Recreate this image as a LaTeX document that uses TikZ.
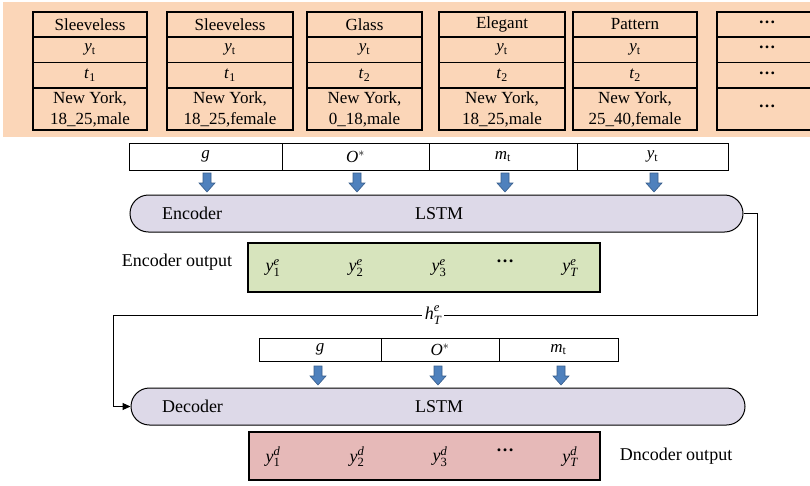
\documentclass[tikz,border=0pt]{standalone}
\usepackage{amsmath}
\usepackage{fontspec}
\setmainfont{Liberation Serif}
\usetikzlibrary{shapes.misc,arrows.meta}
\definecolor{peach}{RGB}{251,214,184}
\definecolor{lavender}{RGB}{221,217,232}
\definecolor{greenbox}{RGB}{215,228,189}
\definecolor{redbox}{RGB}{230,185,184}
\definecolor{bluefill}{RGB}{79,129,189}
\definecolor{blueline}{RGB}{56,93,138}
\newcommand{\yt}{\textit{y}\textsubscript{t}}
\newcommand{\mt}{\textit{m}\textsubscript{t}}
\newcommand{\tone}{\textit{t}\textsubscript{1}}
\newcommand{\ttwo}{\textit{t}\textsubscript{2}}
\newcommand{\ostar}{\textit{O}$^{*}$}
\newcommand{\yse}[2]{$\textit{y}^{\textit{#2}}_{\textrm{#1}}$}
\newcommand{\ysT}[1]{$\textit{y}^{\textit{#1}}_{\textit{T}}$}
\newcommand{\mydots}{\raisebox{0.28em}{\textbf{…}}}
\newcommand{\tabcol}[7]{%
  \node[cell, minimum width={(#3-#2)*1pt}, minimum height=25pt] (#1r1) at ({(#2+#3)/2},24.5) {#4};
  \node[cell, minimum width={(#3-#2)*1pt}, minimum height=25.5pt] (#1r2) at ({(#2+#3)/2},49.75) {#5};
  \node[cell, minimum width={(#3-#2)*1pt}, minimum height=25.5pt] (#1r3) at ({(#2+#3)/2},75.25) {#6};
  \node[cell, minimum width={(#3-#2)*1pt}, minimum height=42pt] (#1r4) at ({(#2+#3)/2},109) {#7};
}
\tikzset{
  cell/.style={draw, line width=1.2pt, rectangle, inner sep=0pt, align=center,
    font=\fontsize{17}{21}\selectfont},
  seg/.style={draw, line width=0.9pt, rectangle, inner sep=0pt, fill=white,
    font=\fontsize{17}{20}\selectfont},
  lstm/.style={draw, line width=1pt, rounded rectangle, inner sep=0pt},
  lbl/.style={inner sep=0pt, font=\fontsize{18}{21}\selectfont},
  outbox/.style={draw, line width=1.2pt, rectangle, inner sep=0pt},
  conn/.style={line width=1pt},
  bluearr/.pic={\path[fill=bluefill, draw=blueline, line width=0.6pt]
    (-4,-10) -- (4,-10) -- (4,0) -- (8,0) -- (0,9) -- (-8,0) -- (-4,0) -- cycle;}
}
\begin{document}
\begin{tikzpicture}[x=1pt,y=-1pt]
\useasboundingbox (0,0) rectangle (810,485);
\fill[peach] (3,2) rectangle (810,137);
% table
\tabcol{ca}{33}{147}{Sleeveless}{\yt}{\tone}{New York,\\18\_25,male}
\tabcol{cb}{167}{293}{Sleeveless}{\yt}{\tone}{New York,\\18\_25,female}
\tabcol{cc}{307}{422}{Glass}{\yt}{\ttwo}{New York,\\0\_18,male}
\tabcol{cd}{439}{565}{Elegant}{\yt}{\ttwo}{New York,\\18\_25,male}
\tabcol{ce}{573}{697}{Pattern}{\yt}{\ttwo}{New York,\\25\_40,female}
\tabcol{cf}{717}{817}{\mydots}{\mydots}{\mydots}{\mydots}
% encoder input bar
\node[seg, minimum width=153pt, minimum height=27pt] (eg) at (205.5,156.5) {\textit{g}};
\node[seg, minimum width=147pt, minimum height=27pt] (eo) at (355.5,156.5) {\ostar};
\node[seg, minimum width=148pt, minimum height=27pt] (em) at (503,156.5) {\mt};
\node[seg, minimum width=151pt, minimum height=27pt] (ey) at (652.5,156.5) {\yt};
\pic at (207,183) {bluearr};
\pic at (357,183) {bluearr};
\pic at (505,183) {bluearr};
\pic at (654,183) {bluearr};
% encoder
\node[lstm, fill=lavender, minimum width=613pt, minimum height=37pt] (enc) at (436.5,213.5) {};
\node[lbl] (enctxt) at (192,213.5) {Encoder};
\node[lbl] (enclstm) at (439,213.5) {LSTM};
% encoder output
\node[lbl] (encout) at (177,262) {Encoder output};
\node[outbox, fill=greenbox, minimum width=352pt, minimum height=49pt] (gbox) at (424,267.5) {};
\node[lbl] (ye1) at (273,268) {\yse{1}{e}};
\node[lbl] (ye2) at (356,268) {\yse{2}{e}};
\node[lbl] (ye3) at (439,268) {\yse{3}{e}};
\node[lbl] (yed) at (505,264) {\mydots};
\node[lbl] (yeT) at (570,268) {\ysT{e}};
% connector
\node[lbl, inner sep=3pt] (hT) at (433,315) {$\textit{h}^{\textit{e}}_{\textit{T}}$};
\coordinate (k1) at (757,315);
\coordinate (k2) at (113,315);
% decoder input bar
\node[seg, minimum width=122pt, minimum height=23pt] (dg) at (320,349.5) {\textit{g}};
\node[seg, minimum width=118pt, minimum height=23pt] (do) at (440,349.5) {\ostar};
\node[seg, minimum width=119pt, minimum height=23pt] (dm) at (558.5,349.5) {\mt};
\pic at (318,376) {bluearr};
\pic at (438,376) {bluearr};
\pic at (561,376) {bluearr};
% decoder
\node[lstm, fill=lavender, minimum width=614pt, minimum height=37pt] (dec) at (438,406.5) {};
\node[lbl] (dectxt) at (192.5,406.5) {Decoder};
\node[lbl] (declstm) at (439,406.5) {LSTM};
\draw[conn] (enc.east) -| (k1) -- (hT.east);
\draw[conn, -{Triangle[length=8pt,width=7pt]}] (hT.west) -- (k2) |- (dec.west);
% decoder output
\node[outbox, fill=redbox, minimum width=351pt, minimum height=48pt] (rbox) at (424.5,456) {};
\node[lbl] (yd1) at (273,457) {\yse{1}{d}};
\node[lbl] (yd2) at (357,457) {\yse{2}{d}};
\node[lbl] (yd3) at (440,457) {\yse{3}{d}};
\node[lbl] (ydd) at (505,453) {\mydots};
\node[lbl] (ydT) at (570,457) {\ysT{d}};
\node[lbl] (decout) at (676,456) {Dncoder output};
\end{tikzpicture}
\end{document}
